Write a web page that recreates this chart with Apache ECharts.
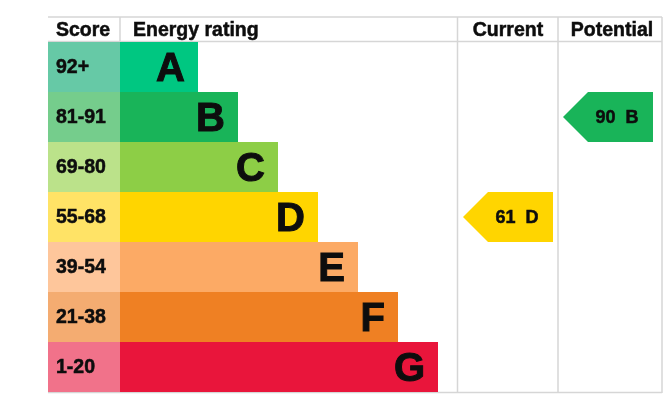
<!DOCTYPE html>
<html>
<head>
<meta charset="utf-8">
<script src="https://cdn.jsdelivr.net/npm/echarts@6/dist/echarts.min.js"></script>
<style>
  html, body { margin: 0; padding: 0; background: #fff; }
  #chart { width: 666px; height: 416px; }
</style>
</head>
<body>
<div id="chart"></div>
<script>
// bands top to bottom
const bands = ['A', 'B', 'C', 'D', 'E', 'F', 'G'];
const scoreRanges = ['92+', '81-91', '69-80', '55-68', '39-54', '21-38', '1-20'];
const bandMins = [92, 81, 69, 55, 39, 21, 1];
const barColors = ['#00c781', '#19b459', '#8dce46', '#ffd500', '#fcaa65', '#ef8023', '#e9153b'];
const scoreColors = ['#66c9a6', '#75cd8c', '#bbe28a', '#ffe366', '#fec69b', '#f4ac71', '#f1728a'];
const currentScore = 61;
const potentialScore = 90;

const FONT = 'Liberation Sans';
const GRID_LINE = '#d6d6d6';
const INK = '#0d0d0d';

// layout, in px of the grid's x axis (grid starts at x=48)
const scoreColWidth = 72;
const barBase = 78, barStep = 40;
const currentCenter = 460;   // middle of "Current" column
const potentialCenter = 560; // middle of "Potential" column

function bandOf(score) {
    for (let i = 0; i < bandMins.length; i++) {
        if (score >= bandMins[i]) return bands[i];
    }
    return bands[bands.length - 1];
}

let arrowPath = 'path://M0,25L25,0L90,0L90,50L25,50Z';

function arrowSeries(score, xCenter) {
    let band = bandOf(score);
    return {
        type: 'scatter',
        symbol: arrowPath,
        symbolSize: [90, 50],
        symbolKeepAspect: false,
        z: 5,
        itemStyle: { color: barColors[bands.indexOf(band)], opacity: 1 },
        label: {
            show: true,
            position: 'inside',
            offset: [9, 1],
            formatter: score + '  ' + band,
            fontFamily: FONT,
            fontWeight: 'bold',
            fontSize: 18,
            color: INK,
            textBorderColor: INK,
            textBorderWidth: 0.5
        },
        data: [[xCenter, band]]
    };
}

let option = {
    animation: false,
    grid: { left: 48, top: 42, right: 4, bottom: 24 },
    xAxis: {
        type: 'value', min: 0, max: 614, show: false
    },
    yAxis: {
        type: 'category', data: bands, inverse: true, show: false
    },
    series: [{
        type: 'bar',
        stack: 'row',
        barCategoryGap: '0%',
        data: bands.map((b, i) => ({
            value: scoreColWidth,
            itemStyle: { color: scoreColors[i] }
        })),
        label: {
            show: true,
            position: 'insideLeft',
            distance: 8,
            offset: [0, 1],
            formatter: p => scoreRanges[p.dataIndex],
            fontFamily: FONT,
            fontWeight: 'bold',
            fontSize: 19.5,
            color: INK,
            textBorderColor: INK,
            textBorderWidth: 0.5
        }
    }, {
        type: 'bar',
        stack: 'row',
        barCategoryGap: '0%',
        data: bands.map((b, i) => ({
            value: barBase + barStep * i,
            itemStyle: { color: barColors[i] }
        })),
        label: {
            show: true,
            position: 'insideRight',
            distance: 13,
            offset: [0, 3],
            formatter: p => bands[p.dataIndex],
            fontFamily: FONT,
            fontWeight: 'bold',
            fontSize: 40,
            color: INK,
            textBorderColor: INK,
            textBorderWidth: 1
        }
    },
    arrowSeries(currentScore, currentCenter),
    arrowSeries(potentialScore, potentialCenter)
    ],
    graphic: [
        // table lines
        { type: 'line', shape: { x1: 48, y1: 17, x2: 662, y2: 17 }, style: { stroke: GRID_LINE, lineWidth: 1.5 } },
        { type: 'line', shape: { x1: 48, y1: 41.5, x2: 662, y2: 41.5 }, style: { stroke: GRID_LINE, lineWidth: 1.5 } },
        { type: 'line', shape: { x1: 48, y1: 392.5, x2: 662, y2: 392.5 }, style: { stroke: GRID_LINE, lineWidth: 1.5 } },
        { type: 'line', shape: { x1: 120, y1: 17, x2: 120, y2: 42 }, style: { stroke: GRID_LINE, lineWidth: 1.5 } },
        { type: 'line', shape: { x1: 457.5, y1: 17, x2: 457.5, y2: 393 }, style: { stroke: GRID_LINE, lineWidth: 1.5 } },
        { type: 'line', shape: { x1: 558, y1: 17, x2: 558, y2: 393 }, style: { stroke: GRID_LINE, lineWidth: 1.5 } },
        { type: 'line', shape: { x1: 662, y1: 17, x2: 662, y2: 393 }, style: { stroke: GRID_LINE, lineWidth: 1.5 } },
        // headers
        { type: 'text', x: 56, y: 31, style: { text: 'Score', fontFamily: FONT, fontWeight: 'bold', fontSize: 19.5, fill: INK, stroke: INK, lineWidth: 0.5, verticalAlign: 'middle' } },
        { type: 'text', x: 133, y: 31, style: { text: 'Energy rating', fontFamily: FONT, fontWeight: 'bold', fontSize: 19.5, fill: INK, stroke: INK, lineWidth: 0.5, verticalAlign: 'middle' } },
        { type: 'text', x: 508, y: 31, style: { text: 'Current', fontFamily: FONT, fontWeight: 'bold', fontSize: 19.5, fill: INK, stroke: INK, lineWidth: 0.5, align: 'center', verticalAlign: 'middle' } },
        { type: 'text', x: 612, y: 31, style: { text: 'Potential', fontFamily: FONT, fontWeight: 'bold', fontSize: 19.5, fill: INK, stroke: INK, lineWidth: 0.5, align: 'center', verticalAlign: 'middle' } }
    ]
};

echarts.init(document.getElementById('chart')).setOption(option);
</script>
</body>
</html>
